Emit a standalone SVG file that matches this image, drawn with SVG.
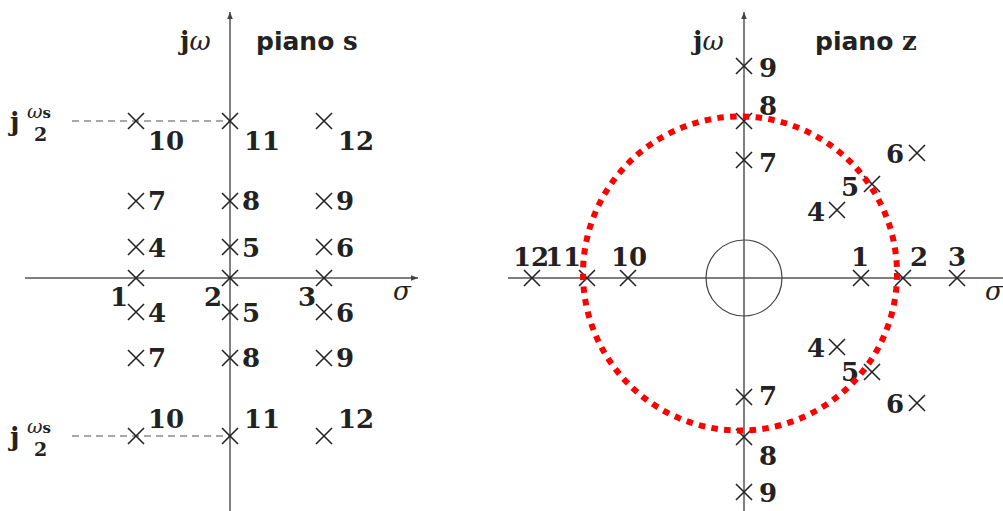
<svg xmlns="http://www.w3.org/2000/svg" width="1003" height="511" viewBox="0 0 1003 511">
<style>
.ax{stroke:#555;stroke-width:1.5;fill:none}
.dash{stroke:#555;stroke-width:1.2;stroke-dasharray:7 5;fill:none}
.n{font-family:"DejaVu Serif",serif;font-weight:bold;font-size:26px;fill:#222}
.it{font-family:"DejaVu Serif",serif;font-style:italic;font-size:26px;fill:#222}
.sm{font-family:"DejaVu Serif",serif;font-size:19px;fill:#222}
.sb{font-family:"DejaVu Sans",sans-serif;font-weight:bold;font-size:25px;fill:#222}
.red{stroke:#f00;stroke-width:6;fill:none;stroke-dasharray:6.5 6.3}
</style>
<defs>
<marker id="arr" viewBox="0 0 10 8" refX="10" refY="4" markerWidth="7" markerHeight="6" markerUnits="userSpaceOnUse" orient="auto"><path d="M0,0 L10,4 L0,8 z" fill="#444"/></marker>
<path id="x" d="M-8,-8 L8,8 M-8,8 L8,-8" stroke="#222" stroke-width="1.6" fill="none"/>
</defs>

<g id="s-plane">
<g id="s-axes">
<line class="ax" x1="25" y1="278" x2="418" y2="278" marker-end="url(#arr)"/>
<line class="ax" x1="230" y1="511" x2="230" y2="12" marker-end="url(#arr)"/>
<line class="dash" x1="72" y1="121" x2="230" y2="121"/>
<line class="dash" x1="72" y1="436" x2="230" y2="436"/>
</g>
<g id="s-labels">
<text class="n" x="180" y="50">j<tspan class="it" font-weight="normal">ω</tspan></text>
<text class="sb" x="256" y="50">piano <tspan class="n" font-family="DejaVu Serif">s</tspan></text>
<text class="it" x="393" y="300">σ</text>
<text class="n" x="10" y="131" font-size="28">j</text>
<text class="sm" x="27" y="118"><tspan font-style="italic">ω</tspan><tspan font-size="15" font-weight="bold">s</tspan></text>
<text class="sm" x="34" y="141" font-weight="bold">2</text>
<text class="n" x="10" y="446" font-size="28">j</text>
<text class="sm" x="27" y="433"><tspan font-style="italic">ω</tspan><tspan font-size="15" font-weight="bold">s</tspan></text>
<text class="sm" x="34" y="456" font-weight="bold">2</text>
</g>
<g id="s-poles">
<use href="#x" x="136" y="121"/><use href="#x" x="230" y="121"/><use href="#x" x="324" y="121"/>
<use href="#x" x="136" y="201"/><use href="#x" x="230" y="201"/><use href="#x" x="324" y="201"/>
<use href="#x" x="136" y="247"/><use href="#x" x="230" y="247"/><use href="#x" x="324" y="247"/>
<use href="#x" x="136" y="278"/><use href="#x" x="230" y="278"/><use href="#x" x="324" y="278"/>
<use href="#x" x="136" y="312"/><use href="#x" x="230" y="312"/><use href="#x" x="324" y="312"/>
<use href="#x" x="136" y="358"/><use href="#x" x="230" y="358"/><use href="#x" x="324" y="358"/>
<use href="#x" x="136" y="436"/><use href="#x" x="230" y="436"/><use href="#x" x="324" y="436"/>
<text class="n" x="148" y="150">10</text><text class="n" x="244" y="150">11</text><text class="n" x="338" y="150">12</text>
<text class="n" x="148" y="210">7</text><text class="n" x="242" y="210">8</text><text class="n" x="336" y="210">9</text>
<text class="n" x="148" y="257">4</text><text class="n" x="242" y="257">5</text><text class="n" x="336" y="257">6</text>
<text class="n" x="110" y="306">1</text><text class="n" x="204" y="306">2</text><text class="n" x="298" y="306">3</text>
<text class="n" x="148" y="322">4</text><text class="n" x="242" y="322">5</text><text class="n" x="336" y="322">6</text>
<text class="n" x="148" y="367">7</text><text class="n" x="242" y="367">8</text><text class="n" x="336" y="367">9</text>
<text class="n" x="148" y="428">10</text><text class="n" x="244" y="428">11</text><text class="n" x="338" y="428">12</text>
</g>
</g>

<g id="z-plane">
<g id="z-axes">
<line class="ax" x1="508" y1="278" x2="1003" y2="278"/>
<line class="ax" x1="744" y1="511" x2="744" y2="12" marker-end="url(#arr)"/>
<circle cx="744" cy="278" r="38" stroke="#444" stroke-width="1.2" fill="none"/>
</g>
<g id="z-labels">
<text class="n" x="693" y="50">j<tspan class="it" font-weight="normal">ω</tspan></text>
<text class="sb" x="815" y="50">piano <tspan class="n" font-family="DejaVu Serif">z</tspan></text>
<text class="it" x="985" y="300">σ</text>
</g>
<g id="z-poles">
<use href="#x" x="744" y="66"/><text class="n" x="759" y="77">9</text>
<use href="#x" x="744" y="121"/><text class="n" x="759" y="115">8</text>
<use href="#x" x="744" y="160"/><text class="n" x="759" y="172">7</text>
<use href="#x" x="917" y="153"/><text class="n" x="886" y="163">6</text>
<use href="#x" x="872" y="184"/><text class="n" x="841" y="196">5</text>
<use href="#x" x="837" y="210"/><text class="n" x="807" y="221">4</text>
<use href="#x" x="532" y="278"/><text class="n" x="513" y="266">12</text>
<use href="#x" x="587" y="278"/><text class="n" x="545" y="266">11</text>
<use href="#x" x="628" y="278"/><text class="n" x="611" y="266">10</text>
<use href="#x" x="861" y="278"/><text class="n" x="851" y="266">1</text>
<use href="#x" x="903" y="278"/><text class="n" x="910" y="266">2</text>
<use href="#x" x="957" y="278"/><text class="n" x="948" y="266">3</text>
<use href="#x" x="837" y="347"/><text class="n" x="807" y="357">4</text>
<use href="#x" x="872" y="372"/><text class="n" x="841" y="381">5</text>
<use href="#x" x="917" y="403"/><text class="n" x="886" y="413">6</text>
<use href="#x" x="744" y="397"/><text class="n" x="759" y="405">7</text>
<use href="#x" x="744" y="437"/><text class="n" x="759" y="465">8</text>
<use href="#x" x="744" y="492"/><text class="n" x="759" y="502">9</text>
</g>
<circle id="unit-circle" class="red" cx="740" cy="273.5" r="157"/>
</g>
</svg>
